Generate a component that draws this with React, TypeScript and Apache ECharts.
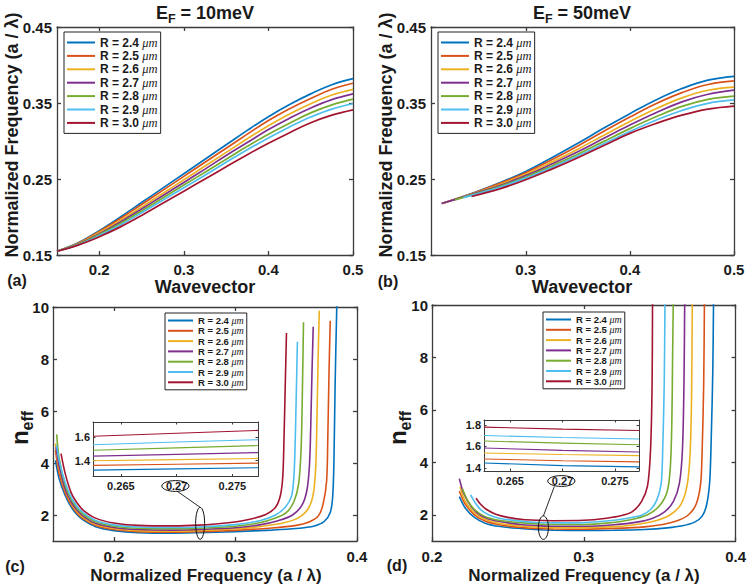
import React, { useEffect, useRef } from "react";
import * as echarts from "echarts";

// ---- series names and colours ----
const RADII = ["R = 2.4 μm", "R = 2.5 μm", "R = 2.6 μm", "R = 2.7 μm", "R = 2.8 μm", "R = 2.9 μm", "R = 3.0 μm"];
const COLORS = ["#0072BD", "#D95319", "#EDB120", "#7E2F8E", "#77AC30", "#4DBEEE", "#A2142F"];

// ---- (a) band, E_F = 10 meV : normalized frequency vs wavevector ----
const kA = [0.15, 0.175, 0.2, 0.225, 0.25, 0.275, 0.3, 0.325, 0.35, 0.375, 0.4, 0.425, 0.45, 0.475, 0.5];
const fA24 = [0.155, 0.166, 0.182, 0.2, 0.219, 0.238, 0.257, 0.276, 0.295, 0.314, 0.332, 0.348, 0.362, 0.374, 0.382];
const fA25 = [0.155, 0.1655, 0.181, 0.198, 0.2165, 0.235, 0.2535, 0.272, 0.2905, 0.309, 0.327, 0.3425, 0.356, 0.368, 0.376];
const fA26 = [0.155, 0.165, 0.1795, 0.1955, 0.213, 0.231, 0.249, 0.267, 0.285, 0.303, 0.32, 0.3355, 0.349, 0.3605, 0.368];
const fA27 = [0.155, 0.1645, 0.178, 0.1935, 0.2105, 0.228, 0.2455, 0.263, 0.281, 0.298, 0.315, 0.33, 0.3435, 0.3545, 0.362];
const fA28 = [0.155, 0.164, 0.177, 0.1915, 0.208, 0.225, 0.242, 0.259, 0.276, 0.293, 0.309, 0.3235, 0.337, 0.3475, 0.355];
const fA29 = [0.155, 0.1635, 0.1755, 0.1895, 0.2055, 0.222, 0.2385, 0.255, 0.272, 0.2885, 0.304, 0.3185, 0.3315, 0.342, 0.349];
const fA30 = [0.155, 0.163, 0.174, 0.187, 0.202, 0.218, 0.234, 0.25, 0.266, 0.282, 0.297, 0.311, 0.324, 0.334, 0.341];
const bandsA = [fA24, fA25, fA26, fA27, fA28, fA29, fA30];

// ---- (b) band, E_F = 50 meV : [wavevector, normalized frequency] ----
const bandB24 = [[0.22, 0.218], [0.25, 0.232], [0.275, 0.245], [0.3, 0.26], [0.325, 0.278], [0.35, 0.297], [0.375, 0.317], [0.4, 0.336], [0.425, 0.354], [0.45, 0.369], [0.475, 0.38], [0.5, 0.385]];
const bandB25 = [[0.22, 0.218], [0.25, 0.2315], [0.275, 0.2442], [0.3, 0.2583], [0.325, 0.2753], [0.35, 0.2935], [0.375, 0.3128], [0.4, 0.3315], [0.425, 0.349], [0.45, 0.3636], [0.475, 0.3743], [0.5, 0.379]];
const bandB26 = [[0.22, 0.218], [0.25, 0.231], [0.275, 0.2428], [0.3, 0.2563], [0.325, 0.2722], [0.35, 0.2893], [0.375, 0.3076], [0.4, 0.3257], [0.425, 0.3424], [0.45, 0.3568], [0.475, 0.3668], [0.5, 0.371]];
const bandB27 = [[0.219, 0.2178], [0.25, 0.2305], [0.275, 0.2414], [0.3, 0.2545], [0.325, 0.2697], [0.35, 0.2858], [0.375, 0.3035], [0.4, 0.321], [0.425, 0.3372], [0.45, 0.3515], [0.475, 0.3615], [0.5, 0.367]];
const bandB28 = [[0.232, 0.2225], [0.25, 0.2298], [0.275, 0.2402], [0.3, 0.2527], [0.325, 0.2672], [0.35, 0.2826], [0.375, 0.2995], [0.4, 0.3163], [0.425, 0.3318], [0.45, 0.3455], [0.475, 0.3548], [0.5, 0.359]];
const bandB29 = [[0.24, 0.2255], [0.25, 0.2292], [0.275, 0.2392], [0.3, 0.2511], [0.325, 0.2652], [0.35, 0.2803], [0.375, 0.2964], [0.4, 0.3126], [0.425, 0.3274], [0.45, 0.3402], [0.475, 0.3496], [0.5, 0.354]];
const bandB30 = [[0.248, 0.227], [0.275, 0.237], [0.3, 0.249], [0.325, 0.263], [0.35, 0.278], [0.375, 0.294], [0.4, 0.31], [0.425, 0.323], [0.45, 0.334], [0.475, 0.342], [0.5, 0.346]];
const bandsB = [bandB24, bandB25, bandB26, bandB27, bandB28, bandB29, bandB30];

// ---- (c) effective index, E_F = 10 meV : [normalized frequency, n_eff] ----
const neffC24 = [[0.152, 4.1], [0.155, 3.4], [0.16, 2.75], [0.165, 2.3], [0.17, 2.0], [0.175, 1.8], [0.185, 1.55], [0.2, 1.4], [0.22, 1.32], [0.25, 1.3], [0.27, 1.32], [0.3, 1.36], [0.33, 1.42], [0.35, 1.48], [0.365, 1.58], [0.373, 1.75], [0.378, 2.1], [0.38, 2.7], [0.381, 4], [0.382, 7], [0.3835, 10.3]];
const neffC25 = [[0.152, 4.5], [0.155, 3.6], [0.16, 2.85], [0.165, 2.38], [0.17, 2.06], [0.175, 1.85], [0.185, 1.6], [0.2, 1.44], [0.22, 1.36], [0.25, 1.34], [0.27, 1.36], [0.3, 1.41], [0.33, 1.5], [0.35, 1.6], [0.36, 1.72], [0.368, 1.95], [0.372, 2.4], [0.375, 3.3], [0.376, 5], [0.377, 7.5], [0.378, 9.47]];
const neffC26 = [[0.152, 4.75], [0.155, 3.8], [0.16, 2.95], [0.165, 2.45], [0.17, 2.12], [0.175, 1.9], [0.185, 1.64], [0.2, 1.48], [0.22, 1.4], [0.25, 1.38], [0.27, 1.4], [0.3, 1.46], [0.32, 1.55], [0.34, 1.7], [0.352, 1.9], [0.36, 2.25], [0.364, 2.8], [0.366, 3.8], [0.367, 5.5], [0.368, 8], [0.369, 9.86]];
const neffC27 = [[0.1525, 4.6], [0.155, 3.9], [0.16, 3.0], [0.165, 2.5], [0.17, 2.17], [0.175, 1.95], [0.185, 1.68], [0.2, 1.52], [0.22, 1.44], [0.25, 1.42], [0.27, 1.44], [0.3, 1.51], [0.32, 1.62], [0.335, 1.78], [0.347, 2.0], [0.355, 2.4], [0.359, 3.0], [0.361, 4.0], [0.362, 5.5], [0.363, 7.5], [0.364, 9.24]];
const neffC28 = [[0.153, 5.1], [0.155, 4.2], [0.16, 3.15], [0.165, 2.6], [0.17, 2.25], [0.175, 2.02], [0.185, 1.74], [0.2, 1.57], [0.22, 1.49], [0.25, 1.47], [0.27, 1.49], [0.3, 1.57], [0.32, 1.7], [0.333, 1.88], [0.342, 2.1], [0.348, 2.5], [0.352, 3.2], [0.354, 4.5], [0.355, 6.5], [0.356, 9.41]];
const neffC29 = [[0.153, 4.7], [0.155, 4.1], [0.16, 3.25], [0.165, 2.68], [0.17, 2.32], [0.175, 2.08], [0.185, 1.79], [0.2, 1.62], [0.22, 1.54], [0.25, 1.52], [0.27, 1.54], [0.3, 1.63], [0.32, 1.78], [0.333, 2.0], [0.341, 2.3], [0.346, 2.7], [0.348, 3.4], [0.349, 4.5], [0.35, 6.5], [0.351, 8.66]];
const neffC30 = [[0.1566, 4.36], [0.16, 3.6], [0.165, 2.85], [0.17, 2.45], [0.175, 2.18], [0.185, 1.88], [0.2, 1.69], [0.22, 1.6], [0.25, 1.58], [0.27, 1.61], [0.29, 1.68], [0.31, 1.82], [0.325, 2.02], [0.333, 2.3], [0.337, 2.75], [0.339, 3.5], [0.34, 5], [0.341, 7], [0.342, 9.0]];
const neffC = [neffC24, neffC25, neffC26, neffC27, neffC28, neffC29, neffC30];

// ---- (d) effective index, E_F = 50 meV : [normalized frequency, n_eff] ----
const neffD24 = [[0.218, 2.69], [0.222, 2.25], [0.228, 1.9], [0.235, 1.68], [0.245, 1.55], [0.26, 1.47], [0.27, 1.43], [0.28, 1.41], [0.3, 1.4], [0.32, 1.41], [0.34, 1.44], [0.355, 1.5], [0.365, 1.58], [0.373, 1.72], [0.378, 1.95], [0.381, 2.4], [0.383, 3.3], [0.384, 5], [0.385, 7.5], [0.3855, 10.3]];
const neffD25 = [[0.218, 2.91], [0.222, 2.4], [0.228, 2.0], [0.235, 1.76], [0.245, 1.61], [0.26, 1.51], [0.27, 1.475], [0.28, 1.455], [0.3, 1.45], [0.32, 1.48], [0.34, 1.54], [0.352, 1.63], [0.362, 1.78], [0.369, 2.0], [0.374, 2.4], [0.377, 3.2], [0.378, 4.5], [0.379, 7], [0.3795, 10.3]];
const neffD26 = [[0.2185, 3.07], [0.222, 2.5], [0.228, 2.08], [0.235, 1.83], [0.245, 1.67], [0.26, 1.56], [0.27, 1.53], [0.28, 1.51], [0.3, 1.51], [0.32, 1.55], [0.335, 1.63], [0.348, 1.78], [0.357, 2.0], [0.364, 2.4], [0.368, 3.1], [0.37, 4.3], [0.371, 6.5], [0.3715, 10.3]];
const neffD27 = [[0.218, 3.38], [0.221, 2.8], [0.226, 2.3], [0.232, 1.98], [0.24, 1.8], [0.25, 1.69], [0.26, 1.62], [0.27, 1.585], [0.28, 1.56], [0.3, 1.56], [0.32, 1.62], [0.335, 1.72], [0.345, 1.86], [0.353, 2.1], [0.359, 2.5], [0.363, 3.2], [0.365, 4.5], [0.366, 7], [0.3665, 10.3]];
const neffD28 = [[0.22, 3.0], [0.223, 2.6], [0.228, 2.2], [0.235, 1.93], [0.245, 1.78], [0.26, 1.69], [0.27, 1.65], [0.28, 1.63], [0.3, 1.63], [0.315, 1.68], [0.33, 1.8], [0.342, 2.0], [0.35, 2.35], [0.355, 2.9], [0.357, 3.8], [0.358, 5.5], [0.3585, 8], [0.359, 10.3]];
const neffD29 = [[0.2255, 2.76], [0.228, 2.5], [0.232, 2.2], [0.238, 1.98], [0.245, 1.86], [0.26, 1.75], [0.27, 1.705], [0.28, 1.69], [0.3, 1.7], [0.315, 1.76], [0.328, 1.86], [0.338, 1.98], [0.344, 2.2], [0.348, 2.55], [0.351, 3.2], [0.352, 4.5], [0.353, 7], [0.3535, 10.3]];
const neffD30 = [[0.229, 2.63], [0.232, 2.4], [0.236, 2.2], [0.242, 2.02], [0.25, 1.9], [0.26, 1.82], [0.27, 1.79], [0.28, 1.775], [0.3, 1.79], [0.315, 1.87], [0.325, 1.97], [0.332, 2.12], [0.338, 2.5], [0.342, 3.1], [0.344, 4.5], [0.345, 7], [0.3453, 10.3]];
const neffD = [neffD24, neffD25, neffD26, neffD27, neffD28, neffD29, neffD30];

// ---- zoomed views around a / λ = 0.27 ----
const insetFreq = [0.2625, 0.27, 0.2773];
const insetC = [
  [1.32, 1.33, 1.34],
  [1.36, 1.37, 1.38],
  [1.4, 1.41, 1.42],
  [1.44, 1.455, 1.47],
  [1.49, 1.51, 1.53],
  [1.537, 1.56, 1.58],
  [1.61, 1.635, 1.66],
];
const insetD = [
  [1.445, 1.42, 1.408],
  [1.482, 1.466, 1.455],
  [1.538, 1.523, 1.513],
  [1.584, 1.562, 1.547],
  [1.649, 1.63, 1.615],
  [1.7, 1.682, 1.668],
  [1.779, 1.76, 1.747],
];

// ---- tick values ----
const ticksBandFreq = [0.15, 0.25, 0.35, 0.45];
const ticksKA = [0.2, 0.3, 0.4, 0.5];
const ticksKB = [0.3, 0.4, 0.5];
const ticksFreq = [0.2, 0.3, 0.4];
const ticksNeff = [2, 4, 6, 8, 10];
const ticksInsetX = [0.265, 0.27, 0.275];
const ticksInsetYC = [1.4, 1.6];
const ticksInsetYD = [1.4, 1.6, 1.8];

const AX = "#3c3c3c";
const TXT = "#1a1a1a";
const NARROW = "'Liberation Sans Narrow', 'Liberation Sans', Arial, sans-serif";
const SANS = "'Liberation Sans', Arial, sans-serif";

const grids = [
  { left: 57, top: 27, width: 296, height: 228 },
  { left: 431, top: 27, width: 303, height: 228 },
  { left: 53, top: 307, width: 304, height: 234 },
  { left: 432, top: 305, width: 305, height: 236 },
  { left: 93, top: 422, width: 165, height: 54.5, show: true, backgroundColor: "#fff", borderWidth: 0 },
  { left: 484, top: 420, width: 155, height: 51, show: true, backgroundColor: "#fff", borderWidth: 0 },
];

type Frame = {
  x: number[]; y: number[]; xt: number[]; yt: number[];
  fs: number; tick: number; xm: number; ym: number;
};

const frames: Frame[] = [
  { x: [0.15, 0.5], y: [0.15, 0.45], xt: ticksKA, yt: ticksBandFreq, fs: 15, tick: 4, xm: 7, ym: 5 },
  { x: [0.209, 0.5], y: [0.15, 0.45], xt: ticksKB, yt: ticksBandFreq, fs: 15, tick: 4, xm: 7, ym: 5 },
  { x: [0.15, 0.4], y: [1, 10], xt: ticksFreq, yt: ticksNeff, fs: 15, tick: 4, xm: 8, ym: 4 },
  { x: [0.2, 0.4], y: [1, 10], xt: ticksFreq, yt: ticksNeff, fs: 15, tick: 4, xm: 8, ym: 4 },
  { x: [0.2625, 0.2773], y: [1.265, 1.732], xt: ticksInsetX, yt: ticksInsetYC, fs: 11, tick: 2.5, xm: 4, ym: 3 },
  { x: [0.2625, 0.2773], y: [1.37, 1.845], xt: ticksInsetX, yt: ticksInsetYD, fs: 11, tick: 2.5, xm: 4, ym: 3 },
];

function buildAxes() {
  const xAxis: any[] = [];
  const yAxis: any[] = [];
  frames.forEach((f, g) => {
    const line = { show: true, onZero: false, lineStyle: { color: AX, width: f.fs > 12 ? 1.3 : 1 } };
    const label = (show: boolean, vals: number[], margin: number) => ({
      show, customValues: vals, margin, fontSize: f.fs, fontWeight: "bold", fontFamily: NARROW, color: TXT,
    });
    (["bottom", "top"] as const).forEach((pos, i) =>
      xAxis.push({
        type: "value", gridIndex: g, position: pos, min: f.x[0], max: f.x[1],
        axisLine: line,
        axisTick: { show: true, inside: true, length: f.tick, customValues: f.xt, lineStyle: line.lineStyle },
        axisLabel: label(i === 0, f.xt, f.xm),
        splitLine: { show: false },
      })
    );
    (["left", "right"] as const).forEach((pos, i) =>
      yAxis.push({
        type: "value", gridIndex: g, position: pos, min: f.y[0], max: f.y[1],
        axisLine: line,
        axisTick: { show: true, inside: true, length: f.tick, customValues: f.yt, lineStyle: line.lineStyle },
        axisLabel: label(i === 0, f.yt, f.ym),
        splitLine: { show: false },
      })
    );
  });
  return { xAxis, yAxis };
}

function lineSeries(name: string, color: string, frame: number, data: number[][], width: number, smooth: number | boolean) {
  return {
    type: "line", name, xAxisIndex: frame * 2, yAxisIndex: frame * 2, data,
    symbol: "none", showSymbol: false, smooth, clip: true, silent: true,
    lineStyle: { color, width }, itemStyle: { color }, z: 3,
  };
}

function buildSeries() {
  const s: any[] = [];
  bandsA.forEach((ys, i) => s.push(lineSeries(RADII[i], COLORS[i], 0, kA.map((k, j) => [k, ys[j]]), 1.7, 0.4)));
  bandsB.forEach((d, i) => s.push(lineSeries(RADII[i], COLORS[i], 1, d, 1.7, 0.4)));
  neffC.forEach((d, i) => s.push(lineSeries(RADII[i], COLORS[i], 2, d, 1.6, 0.3)));
  neffD.forEach((d, i) => s.push(lineSeries(RADII[i], COLORS[i], 3, d, 1.6, 0.3)));
  insetC.forEach((ys, i) => s.push(lineSeries(RADII[i], COLORS[i], 4, insetFreq.map((x, j) => [x, ys[j]]), 1.1, false)));
  insetD.forEach((ys, i) => s.push(lineSeries(RADII[i], COLORS[i], 5, insetFreq.map((x, j) => [x, ys[j]]), 1.1, false)));
  return s;
}

function legend(left: number, top: number, big: boolean) {
  const fs = big ? 12 : 9.5;
  const lh = big ? 14 : 10;
  return {
    data: RADII, orient: "vertical", left, top, icon: "rect",
    itemWidth: big ? 28 : 25, itemHeight: 2, itemGap: big ? 0.4 : 0.3,
    padding: big ? [4, 3, 4, 3] : [2.5, 3, 2.5, 3],
    backgroundColor: "#fff", borderColor: "#222", borderWidth: 1, borderRadius: 0,
    selectedMode: false, z: 10,
    formatter: (name: string) => `{t|${name.split("μ")[0]}}{u|μm}`,
    textStyle: {
      rich: {
        t: { fontFamily: NARROW, fontWeight: "bold", fontSize: fs, lineHeight: lh, color: TXT },
        u: { fontFamily: "'Liberation Serif', serif", fontStyle: "italic", fontSize: fs + 0.5, lineHeight: lh, color: TXT },
      },
    },
  };
}

function txt(x: number, y: number, text: string, size: number, opts: any = {}) {
  return {
    type: "text", x, y, rotation: opts.rotation || 0, z: 20, silent: true,
    style: {
      text, fontSize: size, fontWeight: "bold", fontFamily: opts.family || NARROW, fill: TXT,
      textAlign: "center", textVerticalAlign: "middle", rich: opts.rich,
    },
  };
}

const subRich = (main: number, sub: number, family: string) => ({
  e: { fontSize: main, fontWeight: "bold", fontFamily: family, lineHeight: main + 8, verticalAlign: "middle", color: TXT },
  s: { fontSize: sub, fontWeight: "bold", fontFamily: family, lineHeight: sub + 1, verticalAlign: "bottom", color: TXT },
});

function buildGraphics(chart: any) {
  const px = (series: number, v: number[]) => chart.convertToPixel({ seriesIndex: series }, v) as number[];
  const els: any[] = [
    txt(205, 12.5, "{e|E}{s|F}{e| = 10meV}", 18, { rich: subRich(18, 12.5, NARROW) }),
    txt(582, 12.5, "{e|E}{s|F}{e| = 50meV}", 18, { rich: subRich(18, 12.5, NARROW) }),
    txt(12, 135, "Normalized Frequency (a / λ)", 18, { rotation: Math.PI / 2, family: SANS }),
    txt(386, 135, "Normalized Frequency (a / λ)", 18, { rotation: Math.PI / 2, family: SANS }),
    txt(205, 287, "Wavevector", 18),
    txt(582, 287, "Wavevector", 18),
    txt(17, 280, "(a)", 16),
    txt(388, 281, "(b)", 16),
    txt(15, 566, "(c)", 16),
    txt(397, 565, "(d)", 16),
    txt(19, 428, "{e|n}{s|eff}", 24, { rotation: Math.PI / 2, family: SANS, rich: subRich(24, 16, SANS) }),
    txt(397, 428, "{e|n}{s|eff}", 24, { rotation: Math.PI / 2, family: SANS, rich: subRich(24, 16, SANS) }),
    txt(206, 575, "Normalized Frequency (a / λ)", 17),
    txt(584, 575, "Normalized Frequency (a / λ)", 17),
  ];

  // callouts linking each zoomed view to its region in the main plot
  const callout = (mainSeries: number, mainPt: number[], mainR: number[], insetSeries: number, insetFloor: number, off: number[]) => {
    const big = px(mainSeries, mainPt);
    const tick = px(insetSeries, [0.27, insetFloor]);
    const small = [tick[0] + off[0], tick[1] + off[1]];
    const st = { fill: "none", stroke: "#111", lineWidth: 1 };
    els.push({ type: "ellipse", z: 20, silent: true, shape: { cx: big[0], cy: big[1], rx: mainR[0], ry: mainR[1] }, style: st });
    els.push({ type: "ellipse", z: 20, silent: true, shape: { cx: small[0], cy: small[1], rx: 13.6, ry: 5.4 }, style: st });
    els.push({
      type: "line", z: 20, silent: true,
      shape: { x1: small[0] + off[2], y1: small[1] + 5.4, x2: big[0], y2: big[1] - mainR[1] },
      style: { stroke: "#111", lineWidth: 0.9 },
    });
  };
  callout(14, [0.271, 1.68], [4.5, 16], 28, 1.265, [-1.2, 9.5, 2]);
  callout(21, [0.2734, 1.51], [5, 11.7], 35, 1.37, [-1.2, 10, -7]);
  return els;
}

export default function App() {
  const ref = useRef<HTMLDivElement>(null);
  useEffect(() => {
    const chart = echarts.init(ref.current!, null, { renderer: "svg" });
    const { xAxis, yAxis } = buildAxes();
    chart.setOption({
      animation: false,
      backgroundColor: "#fff",
      grid: grids,
      xAxis,
      yAxis,
      legend: [legend(64, 32, true), legend(438, 32, true), legend(165, 313, false), legend(543, 312, false)],
      series: buildSeries(),
    });
    chart.setOption({ graphic: { elements: buildGraphics(chart) } });
    return () => chart.dispose();
  }, []);
  return (
    <div
      ref={ref}
      style={{ position: "absolute", left: 0, top: 0, width: 749, height: 586, background: "#fff" }}
    />
  );
}
